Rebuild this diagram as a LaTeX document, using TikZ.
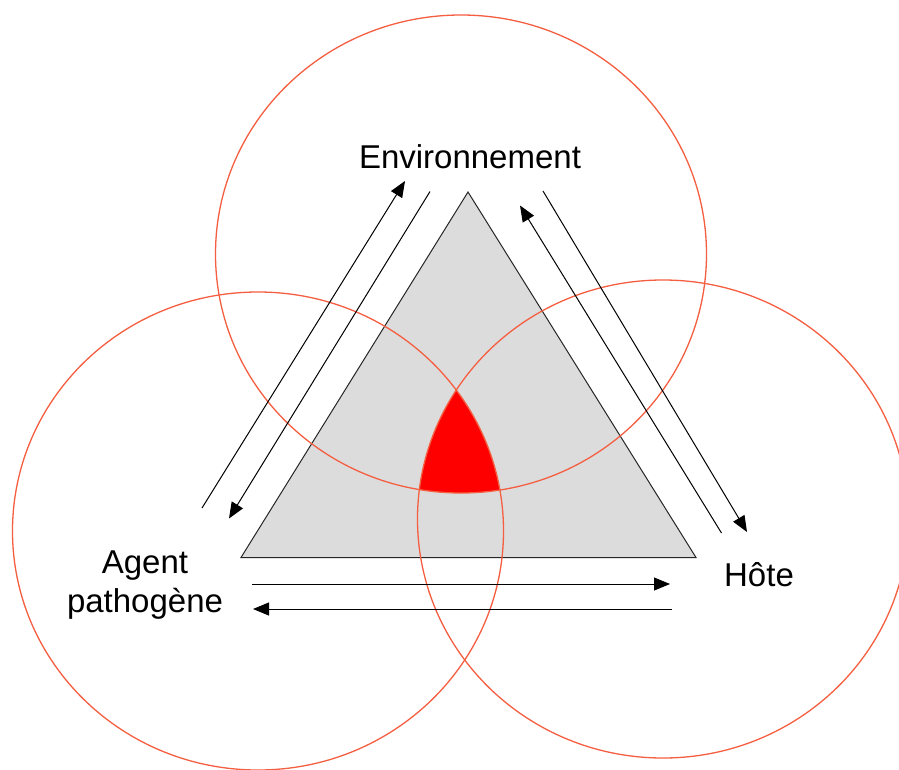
\documentclass[tikz,border=0pt]{standalone}
\usepackage{fontspec}
\setmainfont{Liberation Sans}
\usetikzlibrary{arrows.meta}
\definecolor{circ}{RGB}{245,95,65}
\definecolor{trifill}{RGB}{220,220,220}
\definecolor{hot}{RGB}{255,0,0}
\begin{document}
\begin{tikzpicture}[x=1pt,y=-1pt,
  ring/.style={draw=circ,line width=1.3pt},
  tri/.style={draw=black!85,line width=1pt,fill=trifill},
  flow/.style={draw=black,line width=1pt,-{Triangle[length=16pt,width=13pt]}},
  lbl/.style={anchor=base,inner sep=0pt,font=\fontsize{33}{39}\selectfont}]
\fill[white] (0,0) rectangle (899,769);
\useasboundingbox (0,0) rectangle (899,769);
% triangle
\coordinate (A) at (468,192);
\coordinate (B) at (241,557.5);
\coordinate (C) at (696,557.5);
\fill[trifill] (A) -- (B) -- (C) -- cycle;
% red intersection
\begin{scope}
\clip (461,254) ellipse [x radius=245.5pt, y radius=239pt];
\clip (258,531) ellipse [x radius=245.5pt, y radius=239pt];
\fill[hot] (663,519) ellipse [x radius=245.5pt, y radius=239pt];
\end{scope}
\draw[tri,fill=none,line join=miter] (A) -- (B) -- (C) -- cycle;
% circles
\draw[ring] (461,254) ellipse [x radius=245.5pt, y radius=239pt];
\draw[ring] (258,531) ellipse [x radius=245.5pt, y radius=239pt];
\draw[ring] (663,519) ellipse [x radius=245.5pt, y radius=239pt];
% arrows
\coordinate (l1s) at (202,508);
\coordinate (l1e) at (405,181);
\coordinate (l2s) at (430,191.5);
\coordinate (l2e) at (229,518.5);
\coordinate (r1s) at (721.5,533);
\coordinate (r1e) at (520,205.5);
\coordinate (r2s) at (543,191);
\coordinate (r2e) at (747,532);
\coordinate (b1s) at (252,584);
\coordinate (b1e) at (670,584);
\coordinate (b2s) at (671.5,609);
\coordinate (b2e) at (253,609);
\draw[flow] (l1s) -- (l1e);
\draw[flow] (l2s) -- (l2e);
\draw[flow] (r1s) -- (r1e);
\draw[flow] (r2s) -- (r2e);
\draw[flow] (b1s) -- (b1e);
\draw[flow] (b2s) -- (b2e);
% labels
\node[lbl] (env) at (470,168) {Environnement};
\node[lbl] (ag1) at (145,573) {Agent};
\node[lbl] (ag2) at (145,612) {pathogène};
\node[lbl] (hote) at (759,586) {Hôte};
\end{tikzpicture}
\end{document}
